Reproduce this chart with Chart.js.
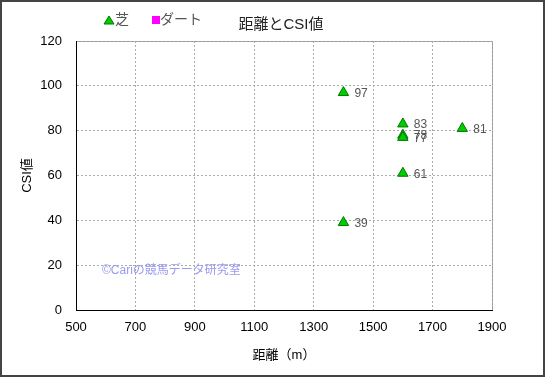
<!DOCTYPE html>
<html>
<head>
<meta charset="utf-8">
<script src="https://cdn.jsdelivr.net/npm/chart.js@4"></script>
<style>
  html, body { margin: 0; padding: 0; background: #fff; }
  #wrap { width: 545px; height: 377px; }
</style>
</head>
<body>
<div id="wrap"><canvas id="chart" width="545" height="377"></canvas></div>
<script>
const chartTitle = '距離とCSI値';
const seriesNames = ['芝', 'ダート'];
const turfDistance = [1400, 1600, 1600, 1600, 1800, 1600, 1400];
const turfCsi = [97, 83, 78, 77, 81, 61, 39];
const dirtDistance = [];
const dirtCsi = [];
const xTicks = [500, 700, 900, 1100, 1300, 1500, 1700, 1900];
const yTicks = [0, 20, 40, 60, 80, 100, 120];
const credit = '©Cariの競馬データ研究室';

const FONT = '"Liberation Sans", "Noto Sans CJK JP", sans-serif';
const turfColor = '#00cc00';
const turfBorder = '#007700';
const dirtColor = '#ff00ff';

const toPoints = (xs, ys) => xs.map((x, i) => ({ x: x, y: ys[i] }));

// frame, top/right border, legend, title, labels, credit
const decor = {
  id: 'decor',
  beforeDraw(chart) {
    const ctx = chart.ctx;
    const a = chart.chartArea;
    ctx.save();
    ctx.fillStyle = '#fff';
    ctx.fillRect(0, 0, chart.width, chart.height);
    ctx.strokeStyle = '#999';
    ctx.lineWidth = 1;
    ctx.beginPath();
    ctx.moveTo(a.left, a.top + 0.5);
    ctx.lineTo(a.right + 0.5, a.top + 0.5);
    ctx.lineTo(a.right + 0.5, a.bottom);
    ctx.stroke();
    ctx.restore();
  },
  afterDraw(chart) {
    const ctx = chart.ctx;
    const a = chart.chartArea;
    ctx.save();
    // solid axis lines on left and bottom
    ctx.strokeStyle = '#000';
    ctx.lineWidth = 1;
    ctx.beginPath();
    ctx.moveTo(a.left + 0.5, a.top);
    ctx.lineTo(a.left + 0.5, a.bottom + 0.5);
    ctx.lineTo(a.right + 1, a.bottom + 0.5);
    ctx.stroke();
    // value labels
    ctx.font = '12px ' + FONT;
    ctx.fillStyle = '#555';
    ctx.textBaseline = 'middle';
    ctx.textAlign = 'left';
    chart.data.datasets.forEach((ds, di) => {
      chart.getDatasetMeta(di).data.forEach((pt, i) => {
        ctx.fillText(String(ds.data[i].y), pt.x + 11, pt.y + 1);
      });
    });
    // credit
    ctx.font = '12px ' + FONT;
    ctx.fillStyle = '#9a9aee';
    ctx.fillText(credit, 102, 271);
    // legend
    ctx.font = '14px ' + FONT;
    ctx.fillStyle = turfColor;
    ctx.strokeStyle = turfBorder;
    ctx.beginPath();
    ctx.moveTo(104, 24);
    ctx.lineTo(109, 16);
    ctx.lineTo(114, 24);
    ctx.closePath();
    ctx.fill();
    ctx.stroke();
    ctx.fillStyle = '#555';
    ctx.fillText(seriesNames[0], 115, 20);
    ctx.fillStyle = dirtColor;
    ctx.fillRect(152, 16, 8, 8);
    ctx.fillStyle = '#555';
    ctx.fillText(seriesNames[1], 160, 20);
    // title
    ctx.font = '15px ' + FONT;
    ctx.fillStyle = '#222';
    ctx.textAlign = 'center';
    ctx.fillText(chartTitle, 281, 25);
    // outer frame
    ctx.strokeStyle = '#444';
    ctx.lineWidth = 2;
    ctx.strokeRect(1, 1, chart.width - 2, chart.height - 2);
    ctx.restore();
  }
};

new Chart(document.getElementById('chart').getContext('2d'), {
  type: 'scatter',
  data: {
    datasets: [
      {
        label: seriesNames[0],
        data: toPoints(turfDistance, turfCsi),
        pointStyle: 'triangle',
        pointRadius: 6,
        backgroundColor: turfColor,
        borderColor: turfBorder,
        borderWidth: 1
      },
      {
        label: seriesNames[1],
        data: toPoints(dirtDistance, dirtCsi),
        pointStyle: 'rect',
        pointRadius: 5,
        backgroundColor: dirtColor,
        borderColor: dirtColor
      }
    ]
  },
  options: {
    responsive: false,
    animation: false,
    layout: { padding: { left: 20, right: 53, top: 41, bottom: 14 } },
    plugins: {
      legend: { display: false },
      title: { display: false },
      tooltip: { enabled: false }
    },
    scales: {
      x: {
        type: 'linear',
        min: 500,
        max: 1900,
        afterBuildTicks: (s) => { s.ticks = xTicks.map(v => ({ value: v })); },
        afterFit: (s) => { s.height = 53; },
        ticks: { color: '#000', font: { size: 13, family: FONT }, padding: 10, callback: (v) => String(v) },
        grid: { color: '#aaa', drawTicks: false },
        border: { color: '#000', width: 1, dash: [2, 2] },
        title: { display: true, text: '距離（m）', color: '#000', font: { size: 13, family: FONT }, padding: 0 }
      },
      y: {
        type: 'linear',
        min: 0,
        max: 120,
        afterBuildTicks: (s) => { s.ticks = yTicks.map(v => ({ value: v })); },
        afterFit: (s) => { s.width = 56; },
        ticks: { color: '#000', font: { size: 13, family: FONT }, padding: 14, callback: (v) => String(v) },
        grid: { color: '#aaa', drawTicks: false },
        border: { color: '#000', width: 1, dash: [2, 2] },
        title: { display: true, text: 'CSI値', color: '#000', font: { size: 13, family: FONT }, padding: 0 }
      }
    }
  },
  plugins: [decor]
});
</script>
</body>
</html>
